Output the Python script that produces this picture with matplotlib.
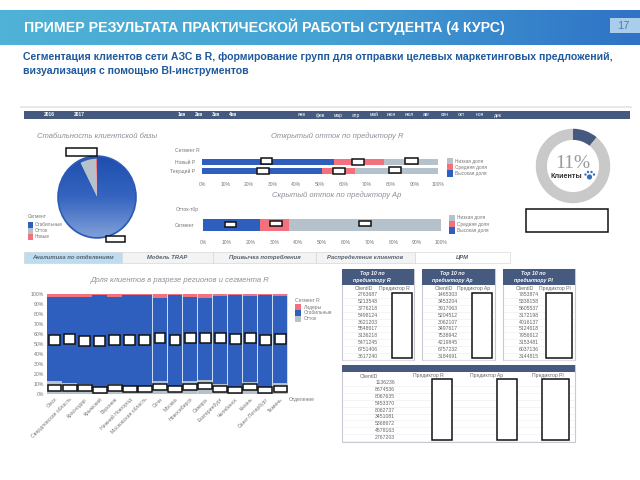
import matplotlib
matplotlib.use('Agg')
import matplotlib.pyplot as plt
from matplotlib.patches import Rectangle, Circle
from matplotlib.colors import LinearSegmentedColormap
import numpy as np

plt.rcParams['font.family'] = ['Liberation Sans', 'DejaVu Sans']

W, H = 640, 480
BLUE = '#2f5fbe'
RED = '#f2717c'
GRAY = '#b6c2cb'
SLATE = '#46597f'
TXT = '#8a8f96'

title = 'ПРИМЕР РЕЗУЛЬТАТА ПРАКТИЧЕСКОЙ РАБОТЫ СТУДЕНТА (4 КУРС)'
subtitle = ['Сегментация клиентов сети АЗС в R, формирование групп для отправки целевых маркетинговых предложений,',
            'визуализация с помощью BI-инструментов']
page = '17'

pie_labels = ['Стабильные', 'Отток', 'Новые']
pie_vals = [92.5, 7, 0.5]

open_rows = ['Новый P', 'Текущий P']
open_high = [56, 51]
open_mid = [21, 14]
open_low = [23, 35]
hidden_rows = ['Сегмент']
hidden_high = [24]
hidden_mid = [12]
hidden_low = [64]
pct_ticks = ['0%', '10%', '20%', '30%', '40%', '50%', '60%', '70%', '80%', '90%', '100%']

donut_vals = [11, 89]

tabs = ['Аналитика по отделениям', 'Модель TRAP', 'Привычка потребления', 'Распределение клиентов', 'ЦРМ']

cities = ['Омск', 'Свердловская область', 'Краснодар', 'Крымский', 'Воронеж', 'Нижний Новгород',
          'Московская область', 'Сочи', 'Москва', 'Новосибирск', 'Самара', 'Екатеринбург',
          'Челябинск', 'Казань', 'Санкт-Петербург', 'Тюмень']
seg_gray = [13, 11, 10, 5, 10, 5, 5, 13, 5, 13, 14, 10, 6, 12, 5, 11]
seg_blue = [84, 86, 87, 94, 87, 94, 94, 83, 94, 84, 82, 88, 93, 86, 94, 87]
seg_red = [3, 3, 3, 1, 3, 1, 1, 4, 1, 3, 4, 2, 1, 2, 1, 2]
box_upper = [54, 55, 53, 53, 54, 54, 54, 56, 54, 56, 56, 56, 55, 56, 54, 55]
box_lower = [6, 6, 6, 4, 6, 5, 5, 7, 5, 7, 8, 5, 4, 7, 4, 5]

top_heads = ['Top 10 по\nпредиктору R', 'Top 10 по\nпредиктору Ap', 'Top 10 по\nпредиктору Pl']
top_cols = ['Предиктор R', 'Предиктор Ap', 'Предиктор Pl']
top_ids = [['2763687', '5213548', '3776218', '5498124', '3621203', '5548617', '3136218', '5471245', '6751406', '3617240'],
           ['1465303', '3453204', '3917063', '5204512', '3062107', '3497617', '7538942', '4219845', '6757232', '3184691'],
           ['7853874', '5338158', '5605537', '3172198', '4016137', '5124618', '7956612', '3153481', '6037136', '3144815']]
bottom_ids = ['1136236', '8674536', '8067635', '5453370', '8062737', '3451081', '5368672', '4578163', '2767203']
bottom_cols = ['ClientID', 'Предиктор R', 'Предиктор Ap', 'Предиктор Pl']

fig = plt.figure(figsize=(W / 100, H / 100), dpi=100)
bg = fig.add_axes([0, 0, 1, 1])
bg.set_xlim(0, W)
bg.set_ylim(H, 0)
bg.axis('off')


def px_axes(x0, y0, x1, y1):
    # axes placed in pixel coords of the slide, y measured from the top
    return fig.add_axes([x0 / W, 1 - y1 / H, (x1 - x0) / W, (y1 - y0) / H])


def box(ax, x0, y0, x1, y1, lw=1.1, z=6):
    ax.add_patch(Rectangle((x0, y0), x1 - x0, y1 - y0, fc='white', ec='#111111', lw=lw, zorder=z))


# header
cm = LinearSegmentedColormap.from_list('hdr', ['#4fb2d6', '#45a3d4', '#2f72c6'])
bg.imshow(np.linspace(0, 1, 256).reshape(1, -1), extent=(0, W, 45, 10), cmap=cm, aspect='auto')
bg.set_xlim(0, W)
bg.set_ylim(H, 0)
bg.text(24, 27, title, color='white', fontsize=10.2, fontweight='bold', va='center')
bg.add_patch(Rectangle((610, 18), 30, 15, fc='#a9cdea', ec='none'))
bg.text(623, 26, page, color='#4f7fb0', fontsize=8, ha='center', va='center')
bg.text(23, 57.5, subtitle[0], color='#1f5a9c', fontsize=7.55, fontweight='bold', va='center')
bg.text(23, 71, subtitle[1], color='#1f5a9c', fontsize=7.55, fontweight='bold', va='center')

# dashboard strip
bg.add_patch(Rectangle((20, 106), 612, 2, fc='#e6e8ea', ec='none'))
bg.add_patch(Rectangle((24, 111), 606, 8, fc=SLATE, ec='none'))
for x, s in [(44, '2016'), (74, '2017'), (178, '1кв'), (195, '2кв'), (212, '3кв'), (229, '4кв')]:
    bg.text(x, 115, s, color='white', fontsize=3.5, fontweight='bold', va='center')
for i, s in enumerate(['янв', 'фев', 'мар', 'апр', 'май', 'июн', 'июл', 'авг', 'сен', 'окт', 'ноя', 'дек']):
    bg.text(298 + i * 17.8, 115, s, color='white', fontsize=3.5, va='center')

# pie
bg.text(97, 136, 'Стабильность клиентской базы', color=TXT, fontsize=5.5, style='italic', ha='center', va='center')
pie_ax = px_axes(57, 155, 137, 239)
wedges, _ = pie_ax.pie(pie_vals, colors=[BLUE, GRAY, RED], startangle=90, counterclock=False, radius=1.0,
                       wedgeprops={'ec': 'none'})
pie_ax.add_patch(Circle((0, 0), 1.0, fc='none', ec='#2b5bb5', lw=2.5))
pie_cm = LinearSegmentedColormap.from_list('pie', ['#1f4fae', '#3565c0', '#7f9fd8'])
im = pie_ax.imshow(np.linspace(0, 1, 128).reshape(-1, 1), extent=(-1, 1, -1, 1), cmap=pie_cm,
                   aspect='auto', origin='upper', zorder=1.5)
im.set_clip_path(wedges[0])
pie_ax.set_xlim(-1.05, 1.05)
pie_ax.set_ylim(-1.05, 1.05)
bg.text(28, 217, 'Сегмент', color='#777777', fontsize=3.4, va='center')
for i, s in enumerate(pie_labels):
    bg.add_patch(Rectangle((28, 222 + i * 6), 5, 5.5, fc=[BLUE, GRAY, RED][i], ec='none'))
    bg.text(35, 225 + i * 6, s, color='#777777', fontsize=3.4, va='center')

# open churn bars
bg.text(337, 136, 'Открытый отток по предиктору R', color=TXT, fontsize=5.5, style='italic', ha='center', va='center')
ax1 = px_axes(202, 157.5, 438, 175.5)
y1 = np.arange(len(open_rows))
ax1.barh(y1, open_high, height=0.66, color=BLUE)
ax1.barh(y1, open_mid, height=0.66, left=open_high, color=RED)
ax1.barh(y1, open_low, height=0.66, left=np.add(open_high, open_mid), color=GRAY)
ax1.set_xlim(0, 100)
ax1.set_ylim(1.5, -0.5)
ax1.set_xticks(np.arange(0, 101, 10), pct_ticks)
ax1.set_yticks(y1, open_rows)
ax1.tick_params(length=0, labelsize=3.6, labelcolor='#777777', pad=5)
for s in ax1.spines.values():
    s.set_visible(False)
bg.text(175, 150, 'Сегмент R', color='#777777', fontsize=3.6, va='center')

# hidden churn bar
bg.text(337, 195, 'Скрытый отток по предиктору Ap', color=TXT, fontsize=5.5, style='italic', ha='center', va='center')
ax2 = px_axes(203, 218, 441, 232)
ax2.barh(hidden_rows, hidden_high, height=0.45, color=BLUE)
ax2.barh(hidden_rows, hidden_mid, height=0.45, left=hidden_high, color=RED)
ax2.barh(hidden_rows, hidden_low, height=0.45, left=np.add(hidden_high, hidden_mid), color=GRAY)
ax2.set_xlim(0, 100)
ax2.set_xticks(np.arange(0, 101, 10), pct_ticks)
ax2.tick_params(length=0, labelsize=3.6, labelcolor='#777777', pad=6)
for s in ax2.spines.values():
    s.set_visible(False)
bg.text(176, 209, 'Отток-тбр', color='#777777', fontsize=3.6, va='center')

# overlay for masks and small legends, has to sit above the bar axes
over = fig.add_axes([0, 0, 1, 1], xlim=(0, W), ylim=(H, 0), facecolor='none', frame_on=False, xticks=[], yticks=[])
for x0, x1, y0, y1_ in [(261, 272, 158, 164), (352, 364, 159, 165), (405, 418, 158, 164),
                        (257, 269, 168, 174), (333, 345, 168, 174), (389, 401, 167, 173),
                        (225, 236, 222, 227), (270, 282, 221, 226), (359, 371, 221, 226),
                        (66, 97, 148, 156), (106, 125, 236, 242)]:
    box(over, x0, y0, x1, y1_)

for ly, lx in [(158, 447), (215, 449)]:
    for i, (c, s) in enumerate(zip([GRAY, RED, BLUE], ['Низкая доля', 'Средняя доля', 'Высокая доля'])):
        over.add_patch(Rectangle((lx, ly + i * 6.2), 6, 6.2, fc=c, ec='none'))
        over.text(lx + 8, ly + 3 + i * 6.2, s, color='#777777', fontsize=3.4, va='center')

# donut
don = px_axes(535, 128, 611, 204)
don.pie(donut_vals, colors=[SLATE, '#c9c9c9'], startangle=90, counterclock=False, radius=1.0,
        wedgeprops={'width': 0.3, 'ec': 'none'})
don.set_xlim(-1.02, 1.02)
don.set_ylim(-1.02, 1.02)
over.text(573, 163, '11%', color='#9a9a9a', fontsize=14, ha='center', va='center', family='Liberation Serif')
over.text(566, 177, 'Клиенты', color='#333333', fontsize=5.2, fontweight='bold', ha='center', va='center')
for px, py, r in [(589.5, 177, 2.6), (585.5, 174.5, 1.2), (588, 172, 1.2), (591.5, 172, 1.2), (594, 174.5, 1.2)]:
    over.add_patch(Circle((px, py), r, fc='#3b6fb5', ec='none'))
box(over, 526, 209, 608, 232)

# tabs
tab_x = [(24, 122), (122, 213), (213, 316), (316, 415), (415, 510)]
tab_c = ['#bcdcf2', '#f3f3f3', '#f3f3f3', '#f3f3f3', '#ffffff']
for (x0, x1), c, s in zip(tab_x, tab_c, tabs):
    bg.add_patch(Rectangle((x0, 252), x1 - x0, 11, fc=c, ec='#d0d0d0', lw=0.4))
    bg.text((x0 + x1) / 2, 257.5, s, color='#55606e', fontsize=4.2, fontweight='bold', style='italic',
            ha='center', va='center')

# stacked bars by region
bg.text(180, 281, 'Доля клиентов в разрезе регионов и сегмента R', color=TXT, fontsize=5.5, style='italic',
        ha='center', va='center')
ax3 = px_axes(47, 294, 288, 394)
x = np.arange(len(cities))
widths = [1.0] * 7 + [0.93] * 9
ax3.bar(x, seg_gray, width=widths, color=GRAY)
ax3.bar(x, seg_blue, width=widths, bottom=seg_gray, color=BLUE)
ax3.bar(x, seg_red, width=widths, bottom=np.add(seg_gray, seg_blue), color=RED)
ax3.set_xlim(-0.5, len(cities) - 0.5)
ax3.set_ylim(0, 100)
ax3.set_facecolor('#c9dcf0')
ax3.set_yticks(np.arange(0, 101, 10), [f'{v}%' for v in range(0, 101, 10)])
ax3.set_xticks(x, cities, rotation=45, ha='right', rotation_mode='anchor')
ax3.tick_params(length=0, labelsize=3.7, labelcolor='#777777', pad=2)
for s in ax3.spines.values():
    s.set_visible(False)
for i in x:
    ax3.add_patch(Rectangle((i - 0.36, box_upper[i] - 5), 0.72, 10, fc='white', ec='#111111', lw=1.1, zorder=6))
    ax3.add_patch(Rectangle((i - 0.46, box_lower[i] - 2.8), 0.92, 5.6, fc='white', ec='#111111', lw=1.1,
                            zorder=6, clip_on=False))
bg.text(295, 300, 'Сегмент R', color='#777777', fontsize=3.6, va='center')
for i, (c, s) in enumerate(zip([RED, BLUE, GRAY], ['Лидеры', 'Стабильные', 'Отток'])):
    bg.add_patch(Rectangle((295, 304 + i * 6), 6, 6, fc=c, ec='none'))
    bg.text(304, 307 + i * 6, s, color='#777777', fontsize=3.5, va='center')
bg.text(289, 399, 'Отделение', color='#777777', fontsize=3.6, va='center')

# top-10 tables
for k, (x0, x1, m0, m1) in enumerate([(342, 414, 392, 412), (422, 495, 472, 492), (503, 575, 546, 572)]):
    bg.add_patch(Rectangle((x0, 269), x1 - x0, 91, fc='white', ec='#c9c9d4', lw=0.8))
    bg.add_patch(Rectangle((x0, 269), x1 - x0, 16, fc=SLATE, ec='none'))
    bg.text(x0 + 30, 277, top_heads[k], color='white', fontsize=3.8, fontweight='bold', style='italic',
            ha='center', va='center', linespacing=1.3)
    bg.text(x0 + 22, 288.5, 'ClientID', color='#666666', fontsize=3.7, ha='center', va='center')
    bg.text(x0 + 52, 288.5, top_cols[k], color='#666666', fontsize=3.7, ha='center', va='center')
    for i, cid in enumerate(top_ids[k]):
        yy = 295 + i * 6.8
        bg.plot([x0 + 1, x1 - 1], [yy + 3.4, yy + 3.4], color='#ececec', lw=0.4)
        bg.text(x0 + 36, yy, cid, color='#666666', fontsize=3.7, ha='right', va='center')
    box(bg, m0, 293, m1, 358)

# bottom table
bg.add_patch(Rectangle((342, 365), 233, 77, fc='white', ec='#c9c9d4', lw=0.8))
bg.add_patch(Rectangle((342, 365), 233, 7, fc=SLATE, ec='none'))
for cx, s in zip([369, 428, 487, 548], bottom_cols):
    bg.text(cx, 376, s, color='#666666', fontsize=3.7, ha='center', va='center')
for i, cid in enumerate(bottom_ids):
    yy = 382.5 + i * 6.9
    bg.plot([343, 574], [yy + 3.4, yy + 3.4], color='#ececec', lw=0.4)
    bg.text(395, yy, cid, color='#666666', fontsize=3.7, ha='right', va='center')
for x0, x1 in [(432, 452), (497, 517), (542, 569)]:
    box(bg, x0, 379, x1, 440)

bg.set_xlim(0, W)
bg.set_ylim(H, 0)
fig.savefig('out.png', dpi=100)
plt.close(fig)
